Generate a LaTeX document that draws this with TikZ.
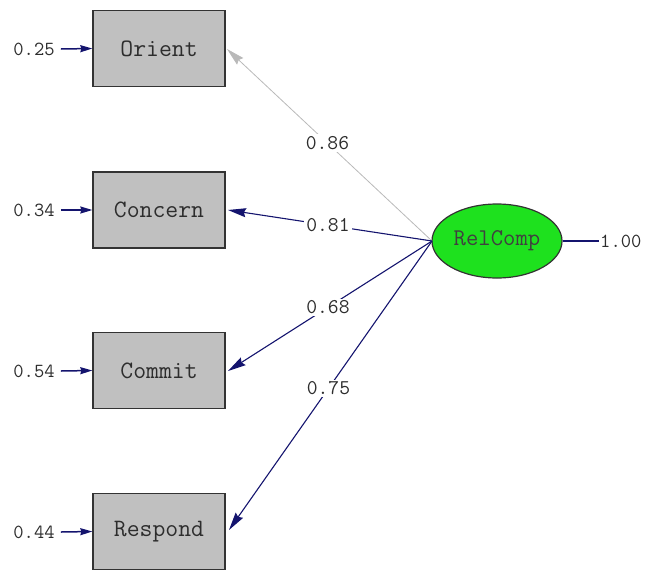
\documentclass[tikz,border=0pt]{standalone}
\usetikzlibrary{arrows.meta,shapes.geometric}
\definecolor{navy}{RGB}{20,20,110}
\definecolor{boxgray}{RGB}{192,192,192}
\definecolor{relgreen}{RGB}{30,225,30}
\definecolor{txt}{RGB}{45,45,45}
\definecolor{lightline}{RGB}{185,185,185}
\tikzset{
  obsbox/.style={draw=black!80, line width=1.3pt, fill=boxgray, minimum width=132pt, minimum height=76pt, inner sep=0pt,
    font=\ttfamily\fontsize{25}{25}\selectfont, text=txt},
  latent/.style={ellipse, draw=black!80, line width=1.2pt, fill=relgreen, minimum width=130pt, minimum height=74pt, inner sep=0pt,
    font=\ttfamily\fontsize{24}{24}\selectfont, text=black!75},
  errlabel/.style={font=\ttfamily\fontsize{20}{20}\selectfont, text=txt, inner sep=1pt},
  coef/.style={font=\ttfamily\fontsize{21}{21}\selectfont, text=txt, fill=white, inner sep=2pt, pos=0.51},
  loading/.style={draw=navy, line width=1.1pt, -{Stealth[length=18pt,width=9pt,inset=2pt]}},
  errarrow/.style={draw=navy, line width=1.5pt, -{Stealth[length=12pt,width=7pt,inset=1pt]}},
}
\begin{document}
\begin{tikzpicture}[x=1pt,y=-1pt]
\useasboundingbox (0,0) rectangle (647,571);
\node[obsbox] (orient) at (159,48.5) {Orient};
\node[obsbox] (concern) at (159,210) {Concern};
\node[obsbox] (commit) at (159,370.5) {Commit};
\node[obsbox] (respond) at (159,531.5) {Respond};
\node[latent] (rel) at (497,241) {RelComp};
\coordinate (src) at (432,241);
\node[errlabel] (e1) at (34,49) {0.25};
\node[errlabel] (e2) at (34,210) {0.34};
\node[errlabel] (e3) at (34,371) {0.54};
\node[errlabel] (e4) at (34,532) {0.44};
\draw[errarrow] (e1.east) ++(5,0) coordinate (e1s) (e1s) -- (orient.west);
\draw[errarrow] (e2.east) ++(5,0) coordinate (e2s) (e2s) -- (concern.west);
\draw[errarrow] (e3.east) ++(5,0) coordinate (e3s) (e3s) -- (commit.west);
\draw[errarrow] (e4.east) ++(5,0) coordinate (e4s) (e4s) -- (respond.west);
\coordinate (t1) at (227,49);
\coordinate (t2) at (228,210);
\coordinate (t3) at (228,371);
\coordinate (t4) at (229,530);
\draw[loading, draw=lightline, line width=0.8pt] (src) -- node[coef] {0.86} (t1);
\draw[loading] (src) -- node[coef] {0.81} (t2);
\draw[loading] (src) -- node[coef] {0.68} (t3);
\draw[loading] (src) -- node[coef] {0.75} (t4);
\node[errlabel, anchor=west] (var) at (599,241) {1.00};
\draw[navy, line width=1.2pt] (rel.east) -- (var.west);
\end{tikzpicture}
\end{document}
